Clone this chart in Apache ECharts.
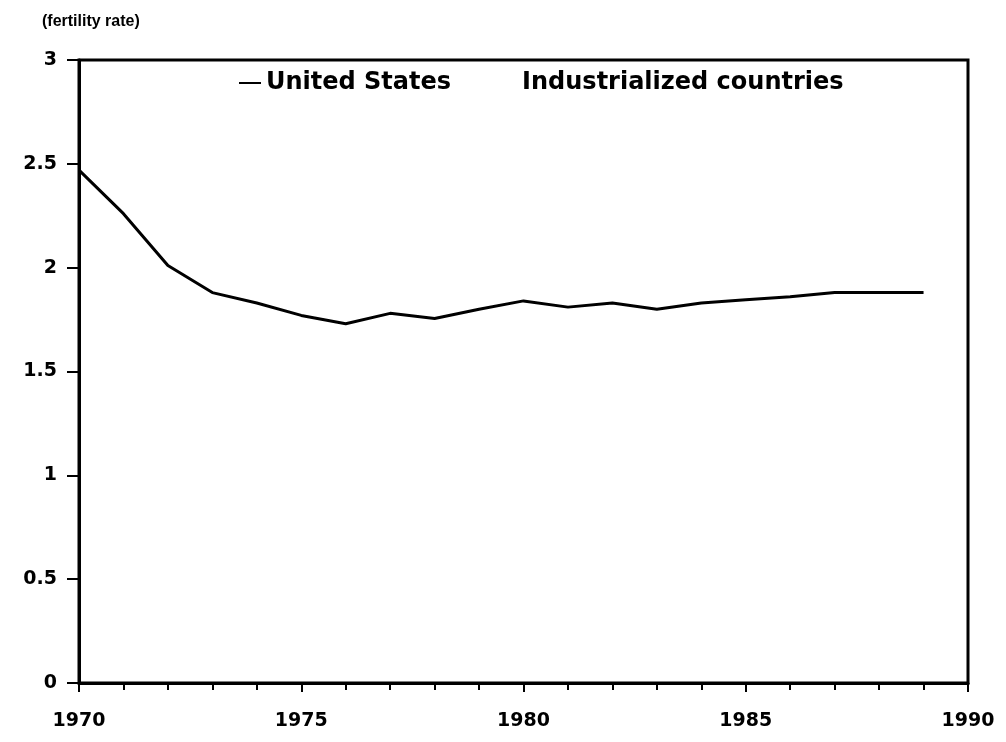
<!DOCTYPE html>
<html>
<head>
<meta charset="utf-8">
<script src="https://cdn.jsdelivr.net/npm/echarts@6/dist/echarts.min.js"></script>
<style>
    html, body { margin: 0; padding: 0; background: #fff; }
    #main { width: 1006px; height: 742px; }
</style>
</head>
<body>
<div id="main"></div>
<script>
    // data
    var years = [1970, 1971, 1972, 1973, 1974, 1975, 1976, 1977, 1978, 1979,
                 1980, 1981, 1982, 1983, 1984, 1985, 1986, 1987, 1988, 1989];
    var usRate = [2.47, 2.26, 2.01, 1.88, 1.83, 1.77, 1.73, 1.78, 1.755, 1.80,
                  1.84, 1.81, 1.83, 1.80, 1.83, 1.845, 1.86, 1.88, 1.88, 1.88];
    var industrialRate = [];   // not visible in the picture
    var seriesNames = ['United States', 'Industrialized countries'];
    var yTicks = [0, 0.5, 1, 1.5, 2, 2.5, 3];
    var xTicks = [1970, 1975, 1980, 1985, 1990];

    var font = 'DejaVu Sans';
    var myChart = echarts.init(document.getElementById('main'));

    var usData = [];
    for (var i = 0; i < years.length; i++) {
        usData.push([years[i], usRate[i]]);
    }
    var indData = [];
    for (var j = 0; j < industrialRate.length; j++) {
        indData.push([years[j], industrialRate[j]]);
    }

    var option = {
        backgroundColor: '#fff',
        animation: false,
        title: {
            text: '(fertility rate)',
            left: 37,
            top: 9,
            textStyle: {
                fontFamily: 'Liberation Sans',
                fontSize: 16,
                fontWeight: 'bold',
                color: '#000'
            }
        },
        legend: {
            left: 234,
            top: 66,
            itemGap: 44,
            itemWidth: 22,
            itemHeight: 2,
            icon: 'rect',
            data: [
                {name: seriesNames[0]},
                {name: seriesNames[1], itemStyle: {opacity: 0}}
            ],
            textStyle: {
                fontFamily: font,
                fontSize: 24,
                fontWeight: 'bold',
                color: '#000'
            }
        },
        grid: {
            left: 79,
            right: 38,
            top: 60,
            bottom: 59,
            show: true,
            borderColor: '#000',
            borderWidth: 3
        },
        xAxis: {
            type: 'value',
            min: xTicks[0],
            max: xTicks[xTicks.length - 1],
            interval: 5,
            axisLine: {lineStyle: {color: '#000', width: 3}},
            axisTick: {length: 9, lineStyle: {color: '#000', width: 2}},
            minorTick: {show: true, splitNumber: 5, length: 7, lineStyle: {color: '#000', width: 2}},
            splitLine: {show: false},
            axisLabel: {
                margin: 29,
                fontFamily: font,
                fontSize: 19,
                fontWeight: 'bold',
                color: '#000',
                formatter: function (v) { return String(v); }
            }
        },
        yAxis: {
            type: 'value',
            min: yTicks[0],
            max: yTicks[yTicks.length - 1],
            interval: 0.5,
            axisLine: {show: true, lineStyle: {color: '#000', width: 3}},
            axisTick: {show: true, length: 12, lineStyle: {color: '#000', width: 2}},
            splitLine: {show: false},
            axisLabel: {
                margin: 22,
                fontFamily: font,
                fontSize: 19,
                fontWeight: 'bold',
                color: '#000'
            }
        },
        series: [{
            name: seriesNames[0],
            type: 'line',
            data: usData,
            smooth: false,
            showSymbol: false,
            symbol: 'none',
            color: '#000',
            lineStyle: {color: '#000', width: 3}
        }, {
            name: seriesNames[1],
            type: 'line',
            data: indData,
            showSymbol: false,
            symbol: 'none',
            color: '#000',
            lineStyle: {color: '#000', width: 3}
        }]
    };
    myChart.setOption(option);
</script>
</body>
</html>
